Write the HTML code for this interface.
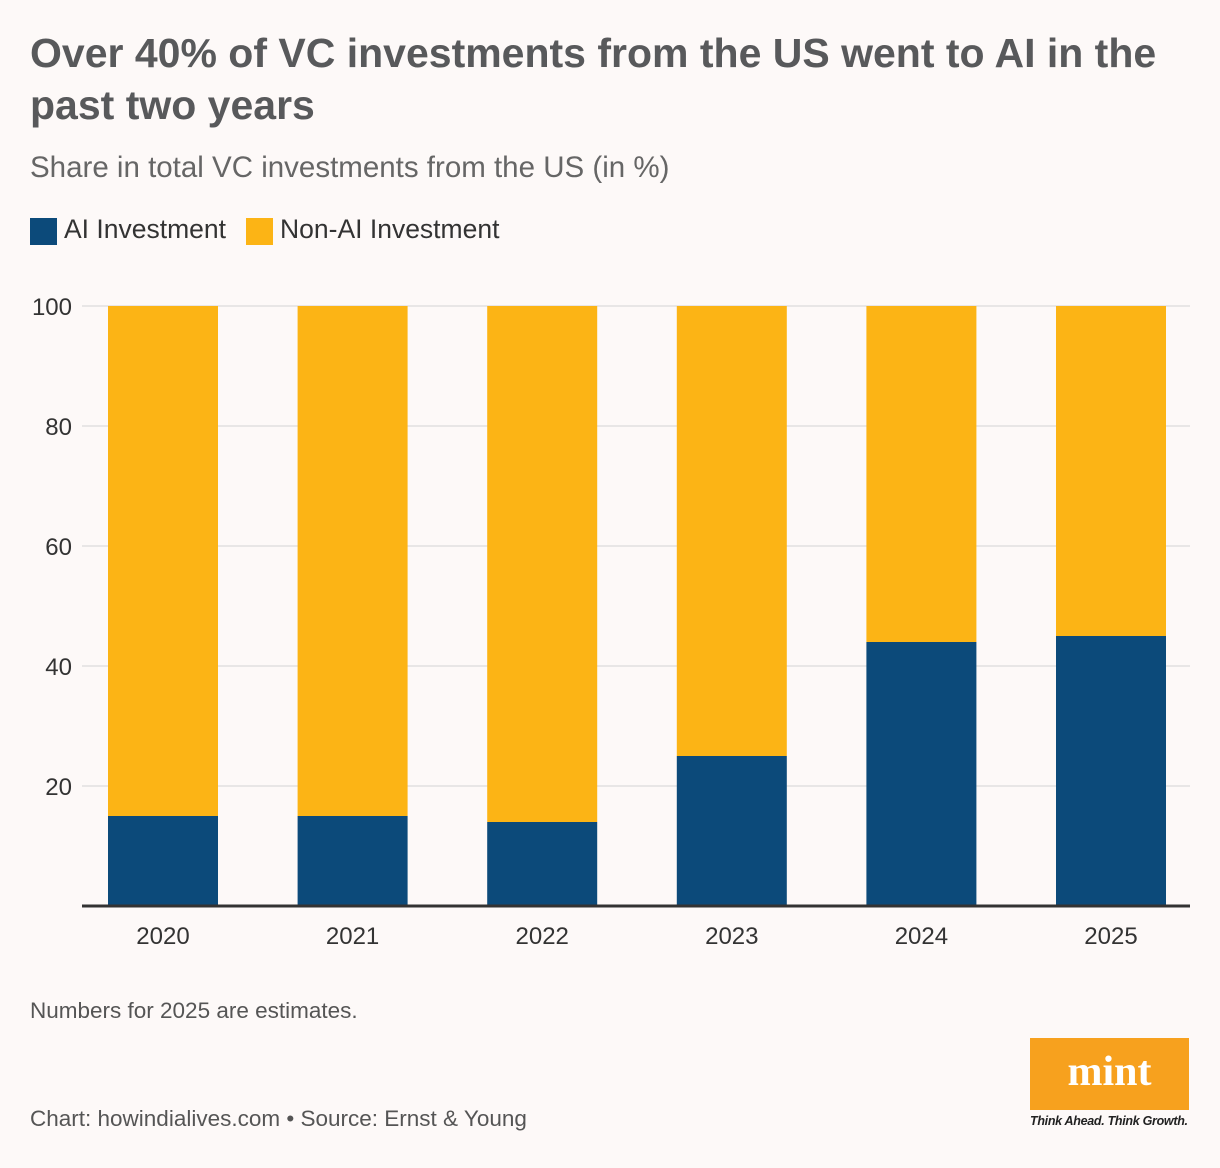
<!DOCTYPE html>
<html><head><meta charset="utf-8">
<style>
body{margin:0;background:#fdf9f8;font-family:"Liberation Sans",sans-serif;}
#wrap{position:relative;width:1220px;height:1168px;overflow:hidden;background:#fdf9f8;}
.t{position:absolute;white-space:nowrap;}
</style></head><body>
<div id="wrap">
<div class="t" style="left:30px;top:27px;font-size:41px;font-weight:bold;color:#58595b;line-height:52px;letter-spacing:0px;">Over 40% of VC investments from the US went to AI in the<br>past two years</div>
<div class="t" style="left:30px;top:151px;font-size:29.5px;color:#666;">Share in total VC investments from the US (in %)</div>
<div style="position:absolute;left:30px;top:218px;width:27px;height:27px;background:#0c4a7a"></div>
<div class="t" style="left:64px;top:214px;font-size:26.5px;color:#333;">AI Investment</div>
<div style="position:absolute;left:246px;top:218px;width:27px;height:27px;background:#fcb415"></div>
<div class="t" style="left:280px;top:214px;font-size:26.5px;color:#333;">Non-AI Investment</div>
<svg id="chart" width="1220" height="1000" style="position:absolute;left:0;top:0"></svg>
<div class="t" style="left:30px;top:998px;font-size:22.5px;color:#555;">Numbers for 2025 are estimates.</div>
<div class="t" style="left:30px;top:1106px;font-size:22.5px;color:#555;">Chart: howindialives.com • Source: Ernst &amp; Young</div>
<div style="position:absolute;left:1030px;top:1038px;width:159px;height:72px;background:#f7a11e;color:#fff;font-family:'Liberation Serif',serif;font-weight:bold;font-size:42px;text-align:center;line-height:68px;">mint</div>
<div class="t" style="left:1030px;top:1114px;font-size:12.5px;font-style:italic;font-weight:bold;color:#222;letter-spacing:-0.3px;">Think Ahead. Think Growth.</div>
</div>
<script>
const categories=["2020","2021","2022","2023","2024","2025"];
const aiValues=[15,15,14,25,44,45];
const nonAiValues=[85,85,86,75,56,55];
const yTicks=[20,40,60,80,100];
const NS="http://www.w3.org/2000/svg";
const svg=document.getElementById('chart');
const y0=906,yTop=306,xL=82,xR=1190;
function y(v){return y0-(v/100)*(y0-yTop);}
const step=189.6,first=163,bw=110;
function xc(i){return first+i*step;}
function mk(tag,attrs){const e=document.createElementNS(NS,tag);for(const k in attrs)e.setAttribute(k,attrs[k]);svg.appendChild(e);return e;}
yTicks.forEach(t=>{
  const l=mk('line',{x1:xL,x2:xR,y1:y(t),y2:y(t),stroke:'#e2e0e0','stroke-width':1.5});
  
  
  const tx=mk('text',{x:72,y:y(t)+9,'text-anchor':'end','font-size':24,fill:'#333','font-family':'Liberation Sans, sans-serif'});
  tx.textContent=t;
  
  
});
categories.forEach((c,i)=>{
  const r1=mk('rect',{x:xc(i)-bw/2,y:y(aiValues[i]),width:bw,height:y0-y(aiValues[i]),fill:'#0c4a7a'});
  
  
  const r2=mk('rect',{x:xc(i)-bw/2,y:y(aiValues[i]+nonAiValues[i]),width:bw,height:y(aiValues[i])-y(aiValues[i]+nonAiValues[i]),fill:'#fcb415'});
  
  
  const tx=mk('text',{x:xc(i),y:944,'text-anchor':'middle','font-size':24,fill:'#333','font-family':'Liberation Sans, sans-serif'});
  tx.textContent=c;
  
  
});
const ax=mk('line',{x1:xL,x2:xR,y1:y0,y2:y0,stroke:'#333','stroke-width':3});


</script>
</body></html>
